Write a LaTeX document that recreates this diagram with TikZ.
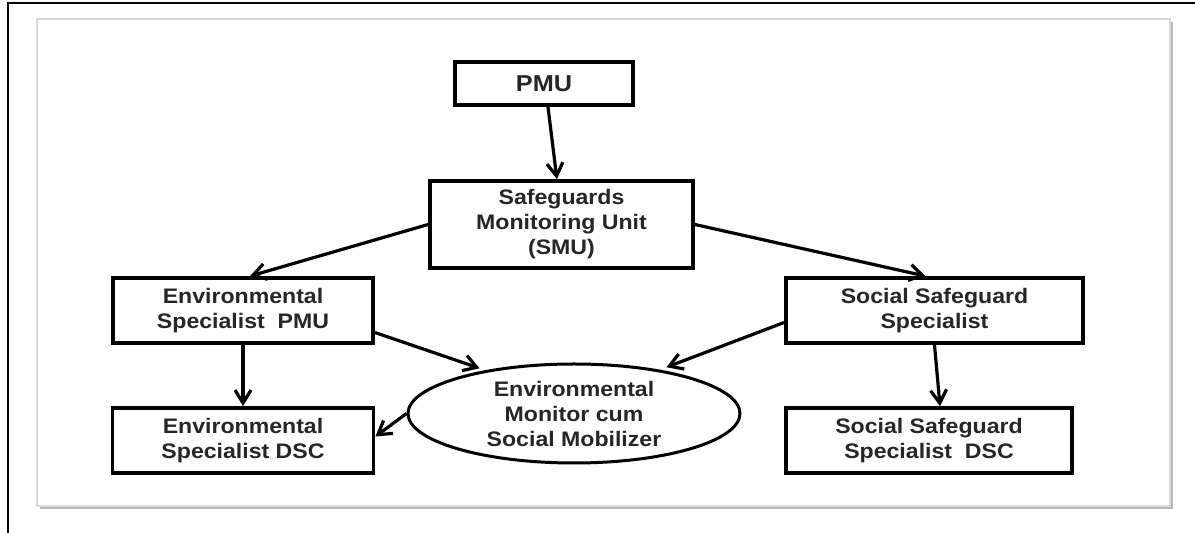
\documentclass[tikz,border=0pt]{standalone}
\usepackage{fontspec}
\setmainfont{Liberation Sans}[FakeStretch=1.1]
\usetikzlibrary{arrows.meta,shapes.geometric}

\begin{document}
\begin{tikzpicture}[x=0.5pt, y=-0.5pt, node distance=65pt,
    unitbox/.style={rectangle, draw, line width=1.9pt, align=center, inner sep=0pt,
        minimum height=32.5pt, text=black!85, font=\fontsize{10.5}{12.5}\selectfont\bfseries},
    link/.style={-{Straight Barb[length=6.5pt,width=8pt]}, line width=1.6pt}]
        \useasboundingbox (0,0) rectangle (1195,533);

        % Frame
        \draw[line width=1pt] (7.5,533) -- (7.5,3.5) -- (1195,3.5);
        \fill[gray!55] (40,22) rectangle (1173,509);
        \filldraw[fill=white, draw=gray!30, line width=1pt] (37,19) rectangle (1170,506);

        % PMU
        \node[unitbox, minimum width=89pt, minimum height=21.5pt,
            font=\fontsize{11.5}{13}\selectfont\bfseries] (pmu) at (544,83.5) {PMU};

        % SMU
        \node[unitbox, minimum width=131.5pt, minimum height=43.5pt] (smu) at (561.5,224.5)
            {Safeguards\\Monitoring Unit\\(SMU)};

        % Environmental
        \node[unitbox, minimum width=130pt] (envpmu) at (243,310.5) {Environmental\\Specialist\ \ PMU};
        \node[unitbox, minimum width=130.5pt, below of=envpmu] (envdsc) {Environmental\\Specialist DSC};

        % Social
        \node[unitbox, minimum width=148.5pt] (socss) at (934.5,310.5) {Social Safeguard\\Specialist};
        \node[unitbox, minimum width=143pt, below of=socss, xshift=-2.75pt] (socdsc) {Social Safeguard\\Specialist\ \ DSC};

        % Monitor
        \node[unitbox, ellipse, line width=1.5pt, minimum width=166pt, minimum height=49.5pt] (mon) at (574,413.5)
            {Environmental\\Monitor cum\\Social Mobilizer};

        % Connections
        \draw[link] ([xshift=2pt]pmu.south) -- ([xshift=-2.3pt]smu.north);
        \draw[link] (smu.west) -- ([xshift=3.5pt]envpmu.north);
        \draw[link] (smu.east) -- ([xshift=-4.5pt]socss.north);
        \draw[link] (envpmu.south) -- (envdsc.north);
        \draw[link] (socss.south) -- ([xshift=5.5pt]socdsc.north);
        \draw[link, shorten >=3pt] ([yshift=-11pt]envpmu.east) -- (mon.154);
        \draw[link, shorten >=3.5pt] ([yshift=-6pt]socss.west) -- (mon.27);
        \draw[link] (mon.west) -- ([yshift=2pt]envdsc.east);
    \end{tikzpicture}
\end{document}
